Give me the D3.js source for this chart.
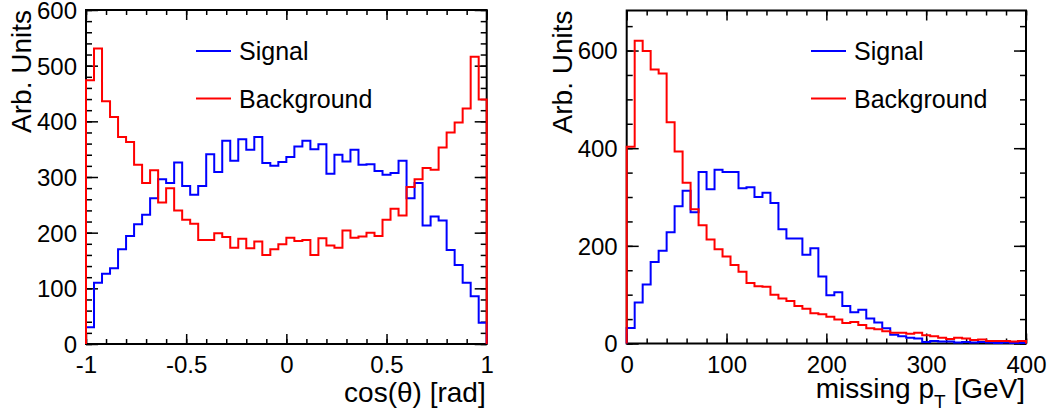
<!DOCTYPE html>
<html>
<head>
<meta charset="utf-8">
<script src="https://cdn.jsdelivr.net/npm/d3@7"></script>
<style>
body { margin: 0; background: #fff; }
text { font-family: "Liberation Sans", Arial, sans-serif; fill: #000; }
</style>
</head>
<body>
<svg id="chart" width="1056" height="416"></svg>
<script>
var seriesNames = ["Signal", "Background"],
    seriesColors = ["#0000ff", "#ff0000"];

// cos(theta): 50 bins from -1 to 1
var cosEdges = d3.range(51).map(function(i) { return -1 + i * 0.04 });
var cosSignal = [
  30, 110, 126, 136, 170, 194, 215, 232, 262, 296,
  289, 326, 284, 268, 284, 341, 309, 365, 329, 368,
  349, 372, 325, 320, 327, 336, 355, 365, 350, 359,
  306, 340, 328, 349, 322, 323, 311, 304, 307, 329,
  262, 289, 213, 229, 222, 169, 142, 110, 86, 38
];
var cosBackground = [
  474, 531, 436, 408, 372, 363, 322, 289, 312, 254,
  280, 240, 223, 216, 187, 187, 199, 192, 173, 189,
  172, 184, 160, 170, 179, 191, 185, 187, 160, 190,
  177, 173, 204, 191, 193, 200, 194, 223, 243, 231,
  282, 296, 316, 313, 353, 380, 398, 423, 516, 439
];
var cosTicks = [-1, -0.5, 0, 0.5, 1],
    cosTickLabels = ["-1", "-0.5", "0", "0.5", "1"],
    cosCountTicks = [0, 100, 200, 300, 400, 500, 600];

// missing pT: 50 bins of 8 GeV from 0 to 400
var ptEdges = d3.range(51).map(function(i) { return i * 8 });
var ptSignal = [
  32, 84, 121, 167, 190, 228, 281, 313, 269, 351,
  316, 356, 351, 351, 318, 320, 300, 309, 288, 234,
  215, 215, 182, 195, 137, 99, 105, 77, 64, 69,
  51, 43, 31, 18, 15, 12, 10, 3, 5, 4,
  4, 2, 3, 2, 3, 2, 1, 2, 1, 1
];
var ptBackground = [
  403, 620, 599, 561, 553, 453, 393, 329, 275, 242,
  213, 193, 178, 161, 147, 124, 117, 116, 100, 92,
  87, 77, 71, 62, 60, 55, 49, 42, 44, 38,
  31, 29, 25, 22, 22, 20, 22, 17, 15, 12,
  9, 12, 10, 7, 8, 5, 5, 5, 4, 5
];
var ptTicks = [0, 100, 200, 300, 400],
    ptTickLabels = ["0", "100", "200", "300", "400"],
    ptCountTicks = [0, 200, 400, 600];

var svg = d3.select("#chart");

function stepPoints(edges, values) {
  var pts = [[edges[0], 0]];
  values.forEach(function(v, i) {
    pts.push([edges[i], v]);
    pts.push([edges[i + 1], v]);
  });
  pts.push([edges[edges.length - 1], 0]);
  return pts;
}

function drawPanel(p) {
  var x = d3.scaleLinear().domain(p.xDomain).range([p.left, p.right]),
      y = d3.scaleLinear().domain(p.yDomain).range([p.bottom, p.top]),
      g = svg.append("g");

  // minor ticks on all four sides
  g.append("g").attr("transform", "translate(0," + p.bottom + ")")
   .call(d3.axisBottom(x).tickValues(p.xMinor).tickSize(-5).tickFormat(""));
  g.append("g").attr("transform", "translate(0," + p.top + ")")
   .call(d3.axisTop(x).tickValues(p.xMinor).tickSize(-5).tickFormat(""));
  g.append("g").attr("transform", "translate(" + p.left + ",0)")
   .call(d3.axisLeft(y).tickValues(p.yMinor).tickSize(-6).tickFormat(""));
  g.append("g").attr("transform", "translate(" + p.right + ",0)")
   .call(d3.axisRight(y).tickValues(p.yMinor).tickSize(-6).tickFormat(""));

  // major ticks, labels on bottom and left
  g.append("g").attr("class", "xlab").attr("transform", "translate(0," + p.bottom + ")")
   .call(d3.axisBottom(x).tickValues(p.xTicks).tickSize(-10).tickPadding(12)
           .tickFormat(function(d, i) { return p.xLabels[i] }));
  g.append("g").attr("transform", "translate(0," + p.top + ")")
   .call(d3.axisTop(x).tickValues(p.xTicks).tickSize(-10).tickFormat(""));
  g.append("g").attr("class", "ylab").attr("transform", "translate(" + p.left + ",0)")
   .call(d3.axisLeft(y).tickValues(p.yTicks).tickSize(-12).tickPadding(9).tickFormat(d3.format("d")));
  g.append("g").attr("transform", "translate(" + p.right + ",0)")
   .call(d3.axisRight(y).tickValues(p.yTicks).tickSize(-12).tickFormat(""));

  g.selectAll(".domain").remove();
  g.selectAll(".tick line").attr("stroke", "#000").attr("stroke-width", 1.5);
  g.selectAll(".tick text").attr("font-size", 24).attr("font-family", null).attr("fill", "#000");
  g.selectAll(".ylab .tick text").attr("dy", "0.35em");

  g.append("rect")
   .attr("x", p.left).attr("y", p.top)
   .attr("width", p.right - p.left).attr("height", p.bottom - p.top)
   .attr("fill", "none").attr("stroke", "#000").attr("stroke-width", 2);

  var line = d3.line()
               .x(function(d) { return x(d[0]) })
               .y(function(d) { return y(d[1]) });

  p.series.forEach(function(vals, k) {
    g.append("path")
     .attr("d", line(stepPoints(p.edges, vals)))
     .attr("fill", "none")
     .attr("stroke", seriesColors[k])
     .attr("stroke-width", 2);
  });

  // legend
  seriesNames.forEach(function(name, k) {
    var ly = p.legendY + k * 47.5;
    g.append("line")
     .attr("x1", p.legendX).attr("x2", p.legendX + 35)
     .attr("y1", ly).attr("y2", ly)
     .attr("stroke", seriesColors[k]).attr("stroke-width", 2);
    g.append("text")
     .attr("x", p.legendX + 43).attr("y", ly + 9)
     .attr("font-size", 25)
     .text(name);
  });

  // axis titles
  var xt = g.append("text")
            .attr("x", p.right - 1).attr("y", p.xTitleY)
            .attr("text-anchor", "end")
            .attr("font-size", 28);
  p.xTitle(xt);

  g.append("text")
   .attr("transform", "translate(" + p.yTitleX + "," + p.top + ") rotate(-90)")
   .attr("text-anchor", "end")
   .attr("font-size", 28)
   .text("Arb. Units");
}

drawPanel({
  left: 86, right: 486.7, top: 10, bottom: 344,
  xDomain: [-1, 1], yDomain: [0, 600],
  xTicks: cosTicks, xLabels: cosTickLabels,
  xMinor: d3.range(-1, 1.001, 0.1),
  yTicks: cosCountTicks, yMinor: d3.range(0, 601, 20),
  edges: cosEdges, series: [cosSignal, cosBackground],
  legendX: 196, legendY: 51,
  xTitleY: 402, yTitleX: 31,
  xTitle: function(t) { t.text("cos(\u03b8) [rad]") }
});

drawPanel({
  left: 626.7, right: 1026, top: 10.5, bottom: 343.5,
  xDomain: [0, 400], yDomain: [0, 682],
  xTicks: ptTicks, xLabels: ptTickLabels,
  xMinor: d3.range(0, 401, 20),
  yTicks: ptCountTicks, yMinor: d3.range(0, 651, 50),
  edges: ptEdges, series: [ptSignal, ptBackground],
  legendX: 811, legendY: 51,
  xTitleY: 398, yTitleX: 572,
  xTitle: function(t) {
    t.append("tspan").text("missing p");
    t.append("tspan").attr("dy", 10).attr("font-size", 19).text("T");
    t.append("tspan").attr("dy", -10).text(" [GeV]");
  }
});
</script>
</body>
</html>
